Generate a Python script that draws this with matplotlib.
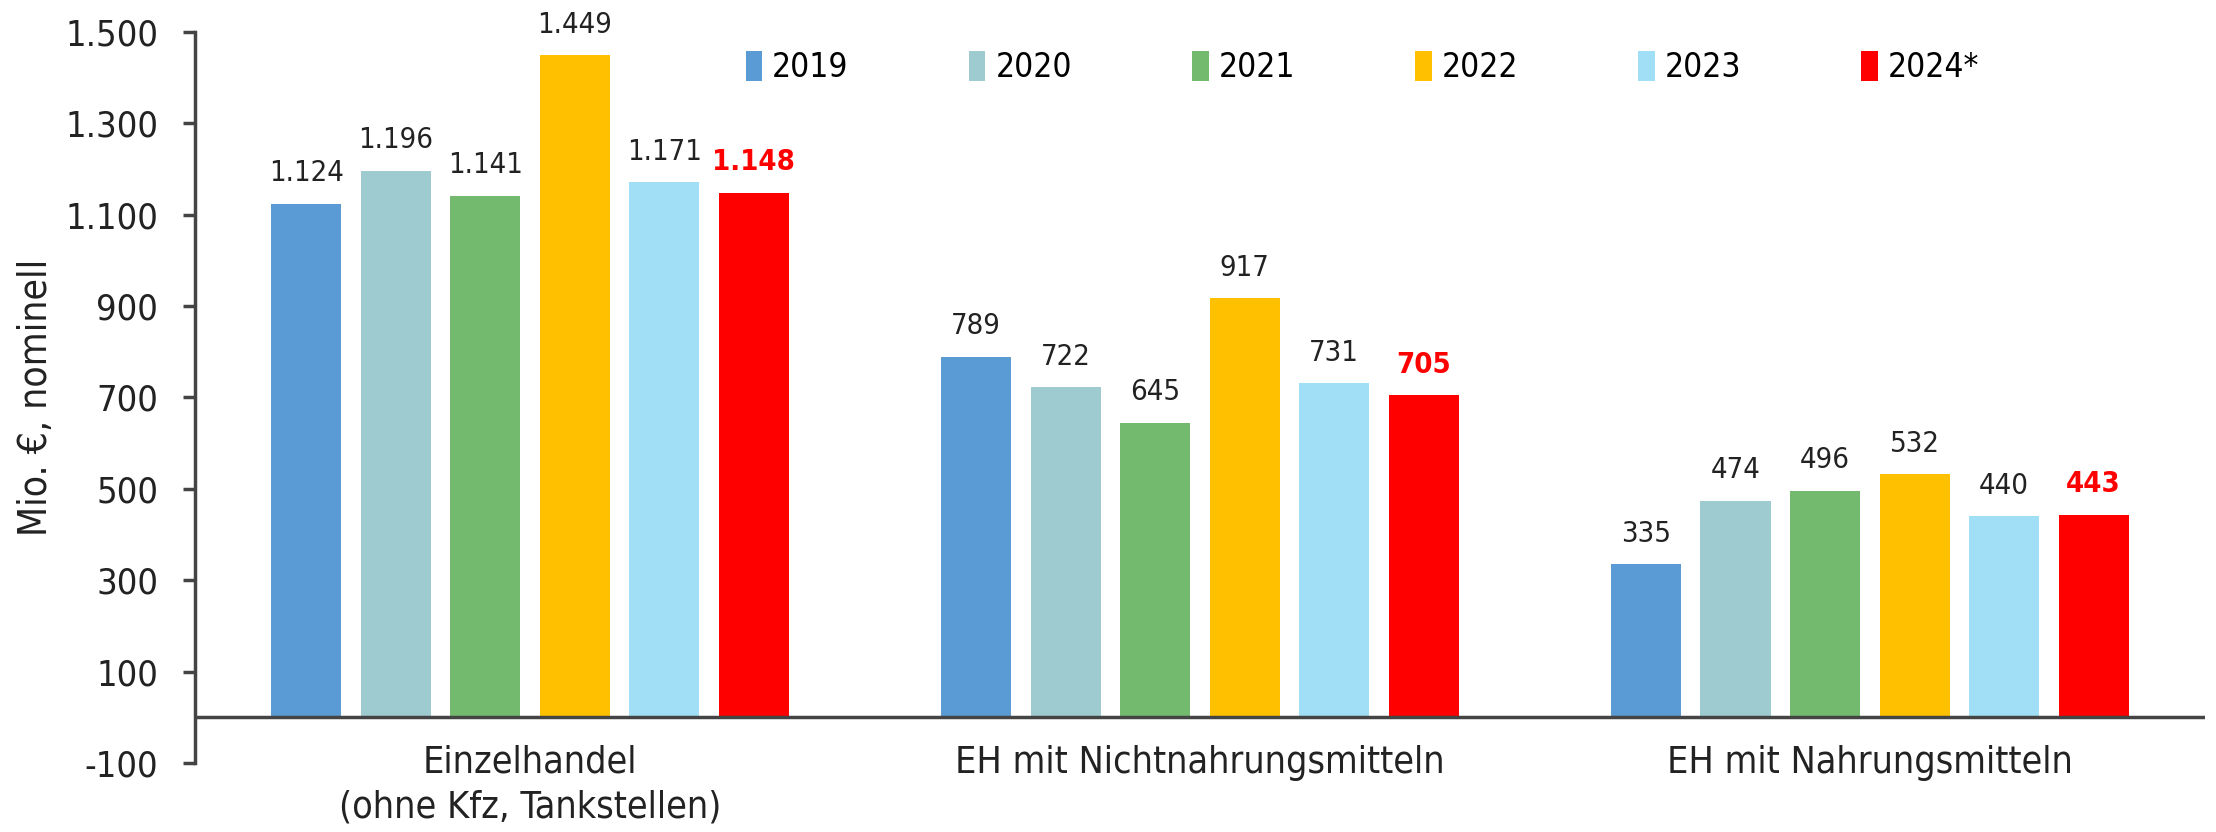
import matplotlib
matplotlib.use("Agg")
from matplotlib import pyplot as plt
from matplotlib import font_manager
import numpy as np

names = {f.name for f in font_manager.fontManager.ttflist}
plt.rcParams['font.family'] = [n for n in ["Liberation Sans Narrow", "DejaVu Sans"] if n in names]
plt.rcParams['font.stretch'] = 'condensed'

categories = ["Einzelhandel\n(ohne Kfz, Tankstellen)", "EH mit Nichtnahrungsmitteln", "EH mit Nahrungsmitteln"]
years = ["2019", "2020", "2021", "2022", "2023", "2024*"]
v2019 = [1124, 789, 335]
v2020 = [1196, 722, 474]
v2021 = [1141, 645, 496]
v2022 = [1449, 917, 532]
v2023 = [1171, 731, 440]
v2024 = [1148, 705, 443]
series = [v2019, v2020, v2021, v2022, v2023, v2024]
colors = ["#5B9BD5", "#9DCBCF", "#73BA6F", "#FFC000", "#A0DFF5", "#FF0000"]

def fmt(v):
    return "{:,}".format(v).replace(",", ".")

fig = plt.figure(figsize=(22.16, 8.32), dpi=100)
ax = fig.add_axes([0.088, 0.083, 0.907, 0.8785])

x = np.arange(len(categories))
pitch = 0.1336
width = 0.105
for i, (vals, c, y) in enumerate(zip(series, colors, years)):
    pos = x + (i - 2.5) * pitch
    ax.bar(pos, vals, width, color=c, label=y)
    last = i == len(series) - 1
    for p, v in zip(pos, vals):
        ax.annotate(fmt(v), (p, v), xytext=(0, 12), textcoords="offset points",
                    ha="center", va="bottom",
                    fontsize=21, color="#FF0000" if last else "#222222",
                    fontweight="bold" if last else "normal")

ax.set_xlim(-0.5, 2.5)
ax.set_ylim(-100, 1500)
ticks = np.arange(-100, 1501, 200)
ax.set_yticks(ticks)
ax.set_yticklabels([fmt(t) for t in ticks], fontsize=26, color="#222222")
ax.set_ylabel("Mio. €, nominell", fontsize=28, color="#222222", labelpad=7)

for s in ["top", "right", "bottom"]:
    ax.spines[s].set_visible(False)
ax.spines["left"].set_color("#444444")
ax.spines["left"].set_linewidth(2.5)
ax.axhline(0, color="#444444", lw=2.5)
ax.tick_params(axis="y", direction="out", length=8.6, width=2.5, color="#444444", pad=18)
ax.set_xticks([])
for xi, c in zip(x, categories):
    ax.text(xi, -60, c, ha="center", va="top", fontsize=27, color="#222222", linespacing=1.3)

ax.legend(loc="upper left", bbox_to_anchor=(0.259, 1.015), ncol=6, frameon=False,
          fontsize=24, handlelength=0.5, handleheight=1.0, handletextpad=0.3,
          columnspacing=3.6)

plt.savefig("out.png", dpi=100)
